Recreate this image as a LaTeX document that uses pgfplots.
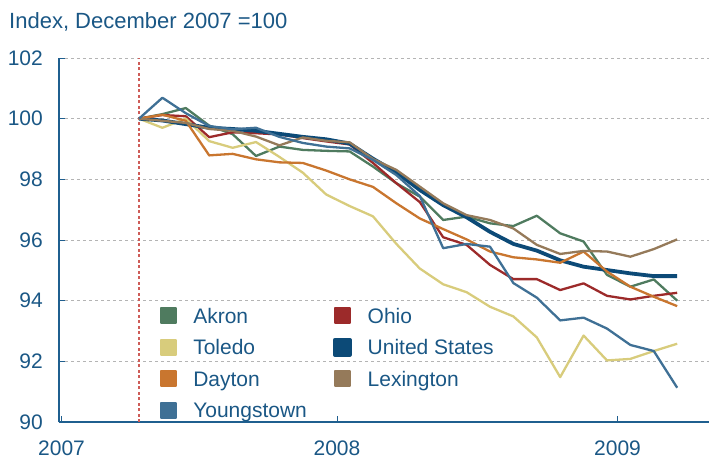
\documentclass[border=0pt]{standalone}
\usepackage{pgfplots}
\pgfplotsset{compat=1.18}
\usepackage{fontspec}
\setmainfont{Liberation Sans}

\definecolor{txtblue}{HTML}{1A5785}
\definecolor{axisblue}{HTML}{1F5F8F}
\definecolor{gridgray}{HTML}{B4B4B4}
\definecolor{refred}{RGB}{206,92,88}
\definecolor{akron}{HTML}{4F7B5F}
\definecolor{toledo}{HTML}{D8CC7C}
\definecolor{dayton}{HTML}{C9762F}
\definecolor{youngstown}{HTML}{3F7095}
\definecolor{ohio}{HTML}{9C2A2A}
\definecolor{usa}{HTML}{0C4A77}
\definecolor{lexington}{HTML}{957A5A}

\begin{document}
\begin{tikzpicture}
\path[use as bounding box] (0pt,0pt) rectangle (709pt,459pt);
\node[anchor=base west, inner sep=0pt, text=txtblue, font=\fontsize{22}{26}\selectfont]
  at (9pt,430pt) {Index, December 2007 =100};
\begin{axis}[
    at={(59pt,37pt)}, anchor=south west,
    scale only axis, width=650pt, height=364pt,
    xmin=-3.419, xmax=24.36, ymin=90, ymax=102,
    axis x line*=bottom, axis y line*=left,
    axis line style={draw=axisblue, line width=1.1pt},
    tick style={draw=axisblue, line width=0.8pt},
    major tick length=6pt, tick align=inside,
    ytick={90,92,...,102},
    xtick={-3.31,8.46,20.45}, xticklabels={2007,2008,2009},
    ticklabel style={text=txtblue, font=\fontsize{21}{25}\selectfont},
    yticklabel style={anchor=east, inner sep=0pt, xshift=-16pt},
    xticklabel style={anchor=north, inner sep=0pt, text depth=0pt, yshift=-19pt},
    /pgf/number format/assume math mode=true,
    ymajorgrids,
    grid style={draw=gridgray, dash pattern=on 3pt off 3pt, line width=0.8pt},
    clip=false,
    legend columns=2,
    legend cell align=left,
    legend style={at={(0.155,0.33)}, anchor=north west, draw=none, fill=none,
        inner sep=0pt, row sep=0pt,
        font=\fontsize{21}{25}\selectfont,
        nodes={text=txtblue, text height=15pt, text depth=4.5pt, inner ysep=6pt, inner xsep=7pt},
        /tikz/every odd column/.append style={column sep=9pt},
        /tikz/every even column/.append style={column sep=19pt}},
    legend image code/.code={\fill[#1] (0pt,-5.5pt) rectangle (15pt,9.5pt);},
    every axis plot/.append style={line width=2.3pt, line join=round},
]
% December 2007 marker
\addplot[color=refred, line width=1.15pt, dash pattern=on 3pt off 2.5pt, forget plot] coordinates {(0,90) (0,102)};

\addplot[color=akron] coordinates {
(0,100) (1,100.15) (2,100.35) (3,99.77) (4,99.49) (5,98.77) (6,99.08) (7,98.97)
(8,98.94) (9,98.92) (10,98.42) (11,97.87) (12,97.43) (13,96.66) (14,96.77) (15,96.55)
(16,96.46) (17,96.80) (18,96.22) (19,95.95) (20,94.85) (21,94.46) (22,94.70) (23,94.00)};
\addlegendentry{Akron}
\addplot[color=ohio] coordinates {
(0,100) (1,100.12) (2,100.08) (3,99.39) (4,99.55) (5,99.52) (6,99.48) (7,99.36)
(8,99.25) (9,99.15) (10,98.54) (11,97.87) (12,97.25) (13,96.09) (14,95.84) (15,95.18)
(16,94.71) (17,94.71) (18,94.35) (19,94.57) (20,94.16) (21,94.04) (22,94.16) (23,94.26)};
\addlegendentry{Ohio}
\addplot[color=toledo] coordinates {
(0,100) (1,99.70) (2,100.00) (3,99.26) (4,99.04) (5,99.23) (6,98.74) (7,98.22)
(8,97.50) (9,97.12) (10,96.78) (11,95.87) (12,95.06) (13,94.54) (14,94.28) (15,93.80)
(16,93.48) (17,92.79) (18,91.48) (19,92.85) (20,92.03) (21,92.08) (22,92.34) (23,92.58)};
\addlegendentry{Toledo}
\addplot[color=usa, line width=3.8pt] coordinates {
(0,100) (1,99.94) (2,99.82) (3,99.70) (4,99.66) (5,99.60) (6,99.50) (7,99.40)
(8,99.32) (9,99.18) (10,98.68) (11,98.23) (12,97.65) (13,97.15) (14,96.75) (15,96.27)
(16,95.87) (17,95.65) (18,95.33) (19,95.12) (20,95.01) (21,94.90) (22,94.81) (23,94.81)};
\addlegendentry{United States}
\addplot[color=dayton] coordinates {
(0,100) (1,100.13) (2,99.93) (3,98.79) (4,98.84) (5,98.66) (6,98.56) (7,98.54)
(8,98.29) (9,98.00) (10,97.75) (11,97.21) (12,96.71) (13,96.36) (14,96.02) (15,95.62)
(16,95.43) (17,95.36) (18,95.25) (19,95.62) (20,94.96) (21,94.46) (22,94.13) (23,93.82)};
\addlegendentry{Dayton}
\addplot[color=lexington] coordinates {
(0,100) (1,99.93) (2,99.86) (3,99.66) (4,99.60) (5,99.41) (6,99.12) (7,99.38)
(8,99.27) (9,99.22) (10,98.67) (11,98.31) (12,97.76) (13,97.21) (14,96.82) (15,96.66)
(16,96.38) (17,95.84) (18,95.54) (19,95.64) (20,95.62) (21,95.45) (22,95.70) (23,96.02)};
\addlegendentry{Lexington}
\addplot[color=youngstown] coordinates {
(0,100) (1,100.69) (2,100.18) (3,99.76) (4,99.65) (5,99.70) (6,99.40) (7,99.20)
(8,99.08) (9,99.02) (10,98.64) (11,98.14) (12,97.45) (13,95.73) (14,95.87) (15,95.78)
(16,94.58) (17,94.10) (18,93.35) (19,93.44) (20,93.08) (21,92.54) (22,92.34) (23,91.13)};
\addlegendentry{Youngstown}
\end{axis}
\end{tikzpicture}
\end{document}
